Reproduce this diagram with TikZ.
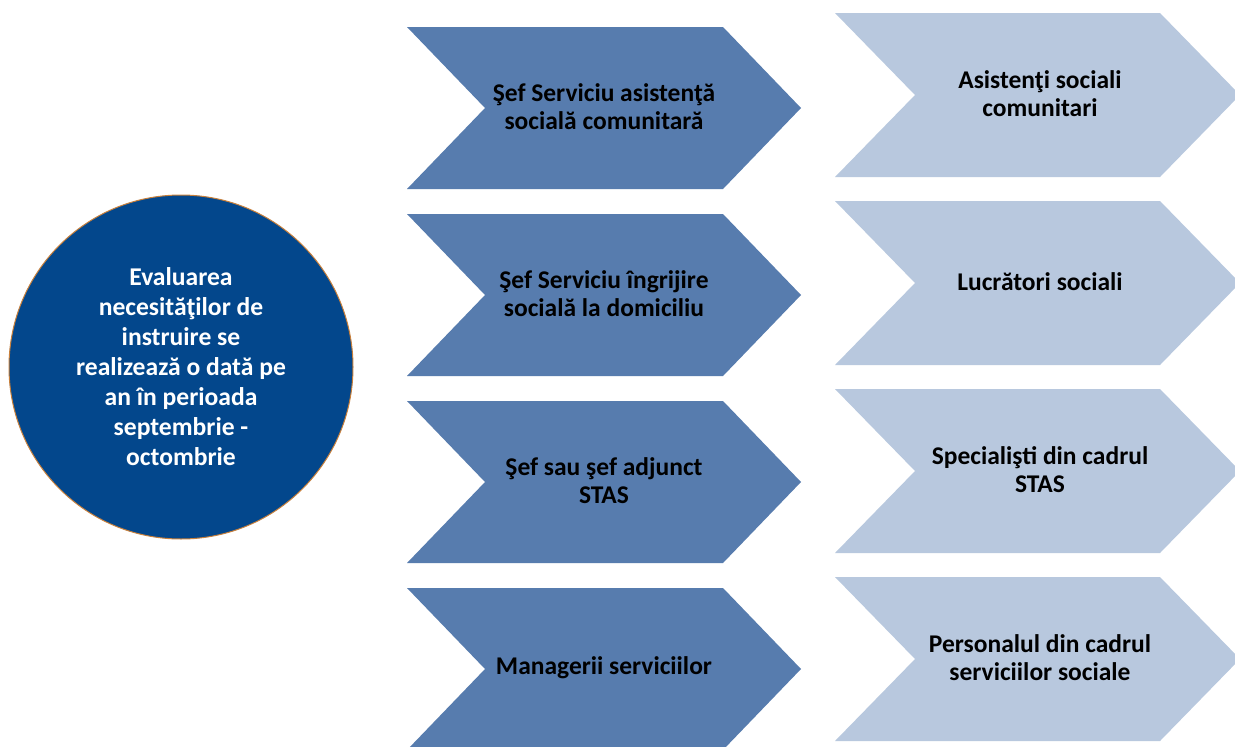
\documentclass[tikz,border=0pt]{standalone}
\usepackage{fontspec}
\setmainfont{Carlito}
\definecolor{darkc}{HTML}{03478C}
\definecolor{midc}{HTML}{577CAE}
\definecolor{lightc}{HTML}{B8C8DE}
\definecolor{ringc}{HTML}{C8803C}
\newcommand\mychev[6]{%
  \fill[#6] (#1,#2) -- (#3,#2) -- ({#3+#5},{(#2+#4)/2}) -- (#3,#4) -- (#1,#4) -- ({#1+#5},{(#2+#4)/2}) -- cycle;}
\tikzset{
  lbl/.style={align=center, font=\bfseries\fontsize{25.5}{28}\selectfont, text=black, inner sep=0pt},
  clbl/.style={align=center, font=\bfseries\fontsize{25.6}{30}\selectfont, text=white, inner sep=0pt},
}
\begin{document}
\begin{tikzpicture}[x=1pt,y=-1pt]
\useasboundingbox (0,0) rectangle (1235,747);
\clip (0,0) rectangle (1235,747);
\fill[white] (0,0) rectangle (1235,747);
% chevrons
\foreach \k in {0,1,2,3}{
  \pgfmathsetmacro\t{27+187*\k}
  \pgfmathsetmacro\b{189+187*\k}
  \mychev{407}{\t}{723}{\b}{78}{midc}
  \pgfmathsetmacro\tt{13+188*\k}
  \pgfmathsetmacro\bb{177+188*\k}
  \mychev{835}{\tt}{1160}{\bb}{80}{lightc}
}
\node[circle, fill=darkc, draw=ringc, line width=1pt, minimum size=344pt, inner sep=0pt] (c) at (181,367) {};
\node[clbl] (ct) at (c.center) {Evaluarea\\necesităţilor de\\instruire se\\realizează o dată pe\\an în perioada\\septembrie -\\octombrie};
\node[lbl] (l1) at (604,107) {Şef Serviciu asistenţă\\socială comunitară};
\node[lbl] (l2) at (604,294) {Şef Serviciu îngrijire\\socială la domiciliu};
\node[lbl] (l3) at (604,481) {Şef sau şef adjunct\\STAS};
\node[lbl] (l4) at (604,668) {Managerii serviciilor};
\node[lbl] (r1) at (1040,94) {Asistenţi sociali\\comunitari};
\node[lbl] (r2) at (1040,282) {Lucrători sociali};
\node[lbl] (r3) at (1040,470) {Specialişti din cadrul\\STAS};
\node[lbl] (r4) at (1040,658) {Personalul din cadrul\\serviciilor sociale};
\end{tikzpicture}
\end{document}
